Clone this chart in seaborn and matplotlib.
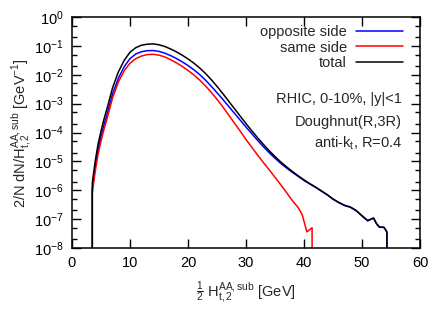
import numpy as np
import pandas as pd
import matplotlib
matplotlib.use("Agg")
import matplotlib.pyplot as plt
import matplotlib.ticker as mticker
import seaborn as sns

# ---- data (log10 of 2/N dN/H) ----
x_total = [3.5, 3.5, 4.0, 4.5, 5.0, 5.5, 6.0, 7, 8, 9, 10, 11, 12, 13, 14, 15, 16, 17, 18, 19,
           20, 21, 22, 23, 24, 25, 26, 27, 28, 29, 30, 31, 32, 33, 34, 35, 36, 37, 38, 39, 40,
           41, 42, 43, 44, 45, 46, 47, 48, 49, 50, 51, 51.5, 52, 52.5, 53, 53.8, 54.3, 54.3]
total_log10 = [-12, -5.75, -5.0, -4.4, -3.95, -3.55, -3.2, -2.45, -1.9, -1.5, -1.22, -1.06,
               -0.975, -0.94, -0.93, -0.96, -1.02, -1.105, -1.205, -1.32,
               -1.45, -1.595, -1.76, -1.95, -2.165, -2.40, -2.65, -2.91, -3.17, -3.43, -3.69,
               -3.94, -4.18, -4.41, -4.63, -4.83, -5.02, -5.19, -5.35, -5.50, -5.64,
               -5.77, -5.89, -6.02, -6.15, -6.3, -6.42, -6.52, -6.58, -6.7, -6.88, -7.05, -7.0,
               -6.96, -7.15, -7.27, -7.28, -7.44, -12]

x_opposite = x_total
opposite_log10 = [-12, -5.95, -5.2, -4.6, -4.15, -3.75, -3.4, -2.66, -2.12, -1.72, -1.44, -1.28,
                  -1.2, -1.165, -1.16, -1.19, -1.25, -1.335, -1.435, -1.55,
                  -1.68, -1.825, -1.99, -2.18, -2.395, -2.62, -2.85, -3.09, -3.33, -3.57, -3.81,
                  -4.04, -4.27, -4.49, -4.70, -4.89, -5.07, -5.23, -5.38, -5.52, -5.66,
                  -5.78, -5.90, -6.03, -6.16, -6.31, -6.43, -6.53, -6.59, -6.71, -6.89, -7.06,
                  -7.01, -6.97, -7.16, -7.28, -7.29, -7.45, -12]

x_same = [3.5, 3.5, 4.0, 4.5, 5.0, 5.5, 6.0, 7, 8, 9, 10, 11, 12, 13, 14, 15, 16, 17, 18, 19,
          20, 21, 22, 23, 24, 25, 26, 27, 28, 29, 30, 31, 32, 33, 34, 35, 36, 37, 38, 39,
          39.7, 40.5, 41.4, 41.4]
same_log10 = [-12, -6.1, -5.35, -4.75, -4.3, -3.9, -3.55, -2.8, -2.25, -1.86, -1.6, -1.44,
              -1.35, -1.3, -1.29, -1.32, -1.38, -1.475, -1.585, -1.71,
              -1.85, -2.0, -2.18, -2.38, -2.605, -2.85, -3.11, -3.39, -3.67, -3.95, -4.24,
              -4.51, -4.78, -5.04, -5.29, -5.55, -5.81, -6.08, -6.36, -6.6,
              -6.85, -7.44, -7.3, -12]

series = [
    ("opposite side", x_opposite, opposite_log10, "#0000ff"),
    ("same side", x_same, same_log10, "#ff0000"),
    ("total", x_total, total_log10, "#000000"),
]

sns.set_style("ticks")
plt.rcParams["font.family"] = ["Liberation Sans", "DejaVu Sans"]
plt.rcParams["mathtext.fontset"] = "custom"
plt.rcParams["mathtext.rm"] = "Liberation Sans"
plt.rcParams["mathtext.it"] = "Liberation Sans"
plt.rcParams["mathtext.bf"] = "Liberation Sans:bold"

fig = plt.figure(figsize=(4.43, 3.10), dpi=100)
ax = fig.add_axes([0.1625, 0.2, 0.7855, 0.745])

for label, xs, ylog, color in series:
    df = pd.DataFrame({"x": xs, "y": np.power(10.0, ylog)})
    sns.lineplot(data=df, x="x", y="y", ax=ax, color=color, label=label,
                 estimator=None, sort=False, linewidth=1.1)

ax.set_yscale("log")
ax.set_xlim(0, 60)
ax.set_ylim(1e-8, 1)
ax.xaxis.set_major_locator(mticker.MultipleLocator(10))
ax.yaxis.set_major_locator(mticker.LogLocator(base=10, numticks=20))
ax.yaxis.set_minor_locator(mticker.LogLocator(base=10, subs=(2.0, 5.0), numticks=20))
ax.yaxis.set_minor_formatter(mticker.NullFormatter())

ax.tick_params(which="both", direction="in", top=True, right=True, labelsize=10.5,
               width=1.0, colors="black")
ax.tick_params(which="major", length=6.5, pad=6)
ax.tick_params(which="minor", length=3.5)
for sp in ax.spines.values():
    sp.set_linewidth(1.1)
    sp.set_color("black")

ax.set_xlabel(r"$\frac{1}{2}$ H$^{\rm AA,sub}_{\rm t,2}$ [GeV]", fontsize=10.5, labelpad=6)
ax.set_ylabel(r"2/N dN/H$^{\rm AA,sub}_{\rm t,2}$ [GeV$^{-1}$]", fontsize=10.5, labelpad=0)

handles, labels = ax.get_legend_handles_labels()
ax.legend(handles, labels, loc="upper right", bbox_to_anchor=(0.951, 0.965), frameon=False,
          markerfirst=False, handlelength=3.2, handletextpad=0.65, labelspacing=0.1,
          borderpad=0, borderaxespad=0, fontsize=10.5)

ax.text(0.948, 0.645, "RHIC, 0-10%, |y|<1", transform=ax.transAxes, ha="right", va="center",
        fontsize=10.5)
ax.text(0.948, 0.545, "Doughnut(R,3R)", transform=ax.transAxes, ha="right", va="center",
        fontsize=10.5)
ax.text(0.948, 0.455, r"anti-k$_{\rm t}$, R=0.4", transform=ax.transAxes, ha="right",
        va="center", fontsize=10.5)

fig.savefig("out.png", dpi=100)
